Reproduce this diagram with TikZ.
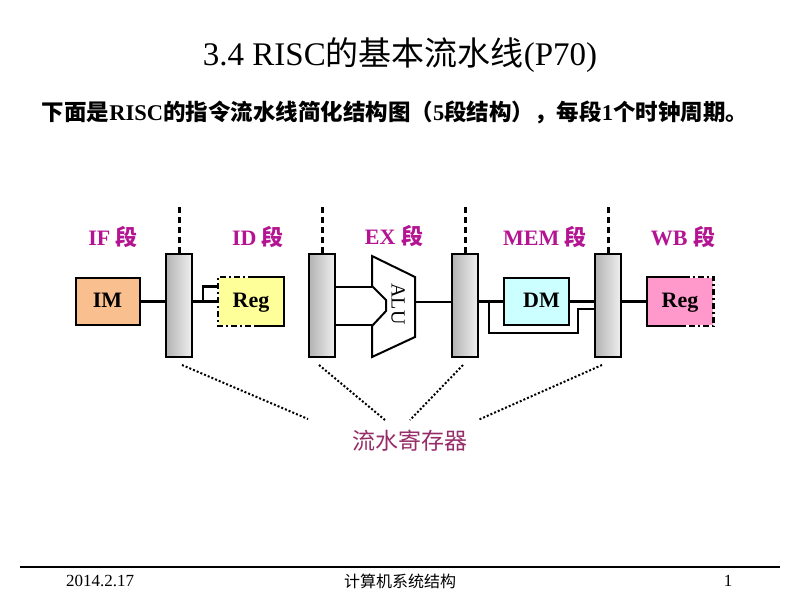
\documentclass[tikz,border=0pt]{standalone}
\usepackage{fontspec}
\setmainfont{Liberation Serif}
\newfontfamily\cjk{Noto Sans CJK SC}
\usetikzlibrary{calc}
\definecolor{stagecol}{RGB}{180,20,145}
\definecolor{plumcol}{RGB}{150,45,105}
\definecolor{imcol}{RGB}{250,191,143}
\definecolor{regcol}{RGB}{255,255,153}
\definecolor{dmcol}{RGB}{204,255,255}
\definecolor{wbcol}{RGB}{255,153,204}
\begin{document}
\begin{tikzpicture}[
    x=1pt, y=-1pt,
    pipereg/.style={draw, line width=2pt, left color=black!30, right color=black!6, minimum width=26pt, minimum height=103pt, inner sep=0pt},
    unit/.style={line width=2pt, minimum width=64pt, minimum height=47pt, inner sep=0pt, text height=15pt, text depth=4pt, font=\fontsize{22}{24}\selectfont\bfseries},
    stage/.style={text=stagecol, font=\fontsize{22}{24}\selectfont\bfseries},
    wire/.style={line width=2.2pt},
    sep/.style={line width=3pt, dash pattern=on 6pt off 4pt},
    leader/.style={line width=2pt, dotted}
    ]
    \useasboundingbox (0,0) rectangle (800,600);

    % Title and subtitle
    \node (title) at (400,55) {\fontsize{33}{37}\selectfont 3.4 RISC{\cjk 的基本流水线}(P70)};
    \node (sub) at (395,112) {\fontsize{22.5}{26}\selectfont\bfseries{\cjk 下面是}RISC{\cjk 的指令流水线简化结构图（}5{\cjk 段结构），每段}1{\cjk 个时钟周期。}};

    % Stage names
    \node[stage] (sif) at (113,237) {IF {\cjk 段}};
    \node[stage] (sid) at (258,237) {ID {\cjk 段}};
    \node[stage] (sex) at (394,236) {EX {\cjk 段}};
    \node[stage] (smem) at (545,237) {MEM {\cjk 段}};
    \node[stage] (swb) at (683,237) {WB {\cjk 段}};

    % Pipeline registers
    \foreach \i/\x in {1/179, 2/322, 3/465, 4/608} {
        \node[pipereg] (bar\i) at (\x,305.5) {};
        \draw[sep] (bar\i.north) -- ++(0,-47);
    }

    % Units
    \node[unit, draw, fill=imcol] (im) at (107.5,301.5) {IM};
    \node[unit, fill=regcol] (idreg) at (251,301.5) {Reg};
    \node[unit, draw, fill=dmcol, minimum width=65pt] (dm) at (536.5,301.5) {\hspace{10pt}DM};
    \node[unit, fill=wbcol, minimum width=65pt] (wbreg) at (680,301.5) {Reg};

    % Reg outlines, half solid and half dashed
    \draw[line width=2pt] ($(idreg.north west)+(36,0)$) -- (idreg.north east) -- (idreg.south east) -- ($(idreg.south west)+(36,0)$);
    \draw[line width=2.5pt, dash pattern=on 6pt off 3pt on 2pt off 3pt] ($(idreg.north west)+(36,0)$) -- (idreg.north west) -- (idreg.south west) -- ($(idreg.south west)+(36,0)$);
    \draw[line width=2pt] ($(wbreg.north east)+(-30,0)$) -- (wbreg.north west) -- (wbreg.south west) -- ($(wbreg.south east)+(-30,0)$);
    \draw[line width=2.5pt, dash pattern=on 6pt off 3pt on 2pt off 3pt] ($(wbreg.north east)+(-30,0)$) -- (wbreg.north east) -- (wbreg.south east) -- ($(wbreg.south east)+(-30,0)$);

    % ALU
    \draw[line width=2pt, fill=white] (372,256) -- (415,277) -- (415,337) -- (372,357) -- (372,326) -- (386,311) -- (386,300) -- (372,286) -- cycle;
    \node[rotate=-90, font=\fontsize{20}{22}\selectfont] (alu) at (398,304) {ALU};
    \coordinate (aluin1) at (372,287);
    \coordinate (aluin2) at (372,325);
    \coordinate (aluout) at (415,302);

    % Connections
    \coordinate (split1) at (203,301.5);
    \coordinate (split3) at (489,301.5);
    \coordinate (byp) at (578,309);
    \draw[wire] (im.east) -- (im.east -| bar1.west);
    \draw[wire] (bar1.east |- idreg.west) -- (idreg.west);
    \draw[wire] (split1) |- ($(idreg.west)+(0,-15)$);
    \draw[wire] ($(idreg.east)+(0,-10)$) -- ($(idreg.east)+(0,-10)$ -| bar2.west);
    \draw[wire] ($(idreg.east)+(0,12.5)$) -- ($(idreg.east)+(0,12.5)$ -| bar2.west);
    \draw[wire] (aluin1 -| bar2.east) -- (aluin1);
    \draw[wire] (aluin2 -| bar2.east) -- (aluin2);
    \draw[wire] (aluout) -- (aluout -| bar3.west);
    \draw[wire] (bar3.east |- dm.west) -- (dm.west);
    \draw[wire] (split3) |- (578,333) -- (byp) -- (byp -| bar4.west);
    \draw[wire] (dm.east) -- (dm.east -| bar4.west);
    \draw[wire] (bar4.east |- wbreg.west) -- (wbreg.west);

    % Pipeline register label
    \node[text=plumcol, font=\fontsize{23}{26}\selectfont\cjk] (lbl) at (410,441) {流水寄存器};
    \coordinate (l1a) at (182,365); \coordinate (l1b) at (308,419);
    \coordinate (l2a) at (319,365); \coordinate (l2b) at (385,420);
    \coordinate (l3a) at (463,365); \coordinate (l3b) at (410,420);
    \coordinate (l4a) at (602,365); \coordinate (l4b) at (478,420);
    \foreach \j in {1,...,4}
        \draw[leader] (l\j a) -- (l\j b);

    % Footer
    \draw[line width=1.3pt] (20,567) -- (780,567);
    \node[font=\fontsize{17}{19}\selectfont] (date) at (100,581) {2014.2.17};
    \node[font=\fontsize{16}{18}\selectfont\cjk] (course) at (400,581) {计算机系统结构};
    \node[font=\fontsize{17}{19}\selectfont] (page) at (728,581) {1};
\end{tikzpicture}
\end{document}
